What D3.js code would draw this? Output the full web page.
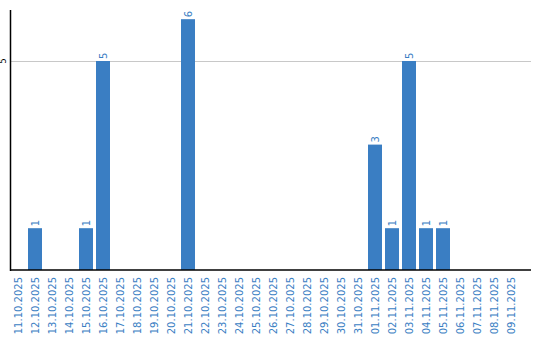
<!DOCTYPE html>
<html>
<head>
<meta charset="utf-8">
<script src="https://cdn.jsdelivr.net/npm/d3@7"></script>
<style>
  body { margin: 0; background: #fff; }
  svg { display: block; font-family: "DejaVu Sans", sans-serif; }
</style>
</head>
<body>
<script>
var width = 540;
var height = 340;

var dates = ['11.10.2025','12.10.2025','13.10.2025','14.10.2025','15.10.2025','16.10.2025',
  '17.10.2025','18.10.2025','19.10.2025','20.10.2025','21.10.2025','22.10.2025','23.10.2025',
  '24.10.2025','25.10.2025','26.10.2025','27.10.2025','28.10.2025','29.10.2025','30.10.2025',
  '31.10.2025','01.11.2025','02.11.2025','03.11.2025','04.11.2025','05.11.2025','06.11.2025',
  '07.11.2025','08.11.2025','09.11.2025'];
var counts = [0,1,0,0,1,5,0,0,0,0,6,0,0,0,0,0,0,0,0,0,0,3,1,5,1,1,0,0,0,0];
var yTicks = [5];

var blue = '#3a7ec3';
var plotLeft = 10.5, plotRight = 531, plotTop = 10, plotBottom = 270;

var svg = d3.select('body').append('svg')
    .attr('width', width)
    .attr('height', height);

var x = d3.scaleBand()
    .domain(dates)
    .range([plotLeft - 1, plotLeft - 1 + 17 * dates.length])
    .paddingInner(3 / 17)
    .paddingOuter(1.5 / 17);

var y = d3.scaleLinear()
    .domain([0, 6.22])
    .range([plotBottom, plotTop]);

// grid line + tick label
svg.selectAll('.grid')
    .data(yTicks)
  .enter().append('line')
    .attr('x1', plotLeft)
    .attr('x2', plotRight)
    .attr('y1', function(d) { return Math.round(y(d)) + 0.5; })
    .attr('y2', function(d) { return Math.round(y(d)) + 0.5; })
    .attr('stroke', '#c8c8c8');

svg.selectAll('.ytick')
    .data(yTicks)
  .enter().append('text')
    .attr('transform', function(d) { return 'translate(6,' + y(d) + ') rotate(-90)'; })
    .attr('text-anchor', 'middle')
    .attr('font-size', 8)
    .attr('fill', '#000')
    .text(function(d) { return d; });

// bars
svg.selectAll('.bar')
    .data(dates)
  .enter().append('rect')
    .attr('x', function(d) { return x(d); })
    .attr('width', x.bandwidth())
    .attr('y', function(d, i) { return y(counts[i]); })
    .attr('height', function(d, i) { return plotBottom - y(counts[i]); })
    .attr('fill', blue);

// value labels
svg.selectAll('.val')
    .data(dates.filter(function(d, i) { return counts[i] > 0; }))
  .enter().append('text')
    .attr('transform', function(d) {
      var c = counts[dates.indexOf(d)];
      return 'translate(' + (x(d) + x.bandwidth() / 2 + 3.5) + ',' + (y(c) - 2) + ') rotate(-90)';
    })
    .attr('font-size', 10)
    .attr('fill', blue)
    .text(function(d) { return counts[dates.indexOf(d)]; });

// axes lines
svg.append('line')
    .attr('x1', plotLeft).attr('x2', plotLeft)
    .attr('y1', plotTop).attr('y2', plotBottom + 1)
    .attr('stroke', '#000').attr('stroke-width', 1.5);

svg.append('line')
    .attr('x1', plotLeft).attr('x2', plotRight)
    .attr('y1', plotBottom).attr('y2', plotBottom)
    .attr('stroke', '#000').attr('stroke-width', 1.5);

// category labels
svg.selectAll('.xlab')
    .data(dates)
  .enter().append('text')
    .attr('transform', function(d) {
      return 'translate(' + (x(d) + x.bandwidth() / 2 + 3.5) + ',' + (plotBottom + 7) + ') rotate(-90)';
    })
    .attr('text-anchor', 'end')
    .attr('font-size', 10)
    .attr('fill', blue)
    .text(function(d) { return d; });
</script>
</body>
</html>
